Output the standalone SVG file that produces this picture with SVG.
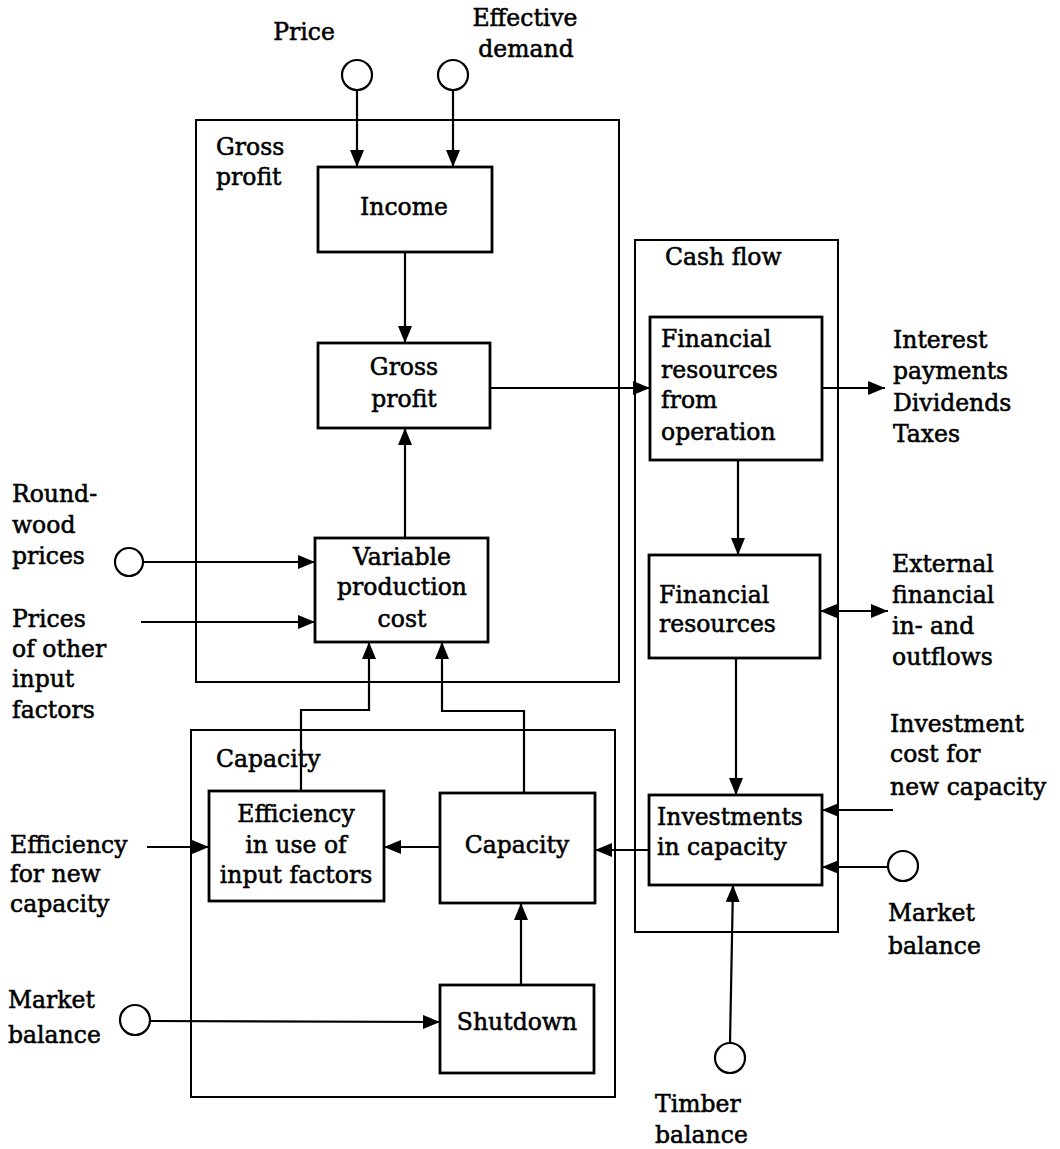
<svg xmlns="http://www.w3.org/2000/svg" width="1060" height="1149" viewBox="0 0 1060 1149">
  <defs>
    <style>
      text { font-family: "DejaVu Serif", "Liberation Serif", serif; font-size: 23.5px; fill: #000; stroke: #000; stroke-width: 0.55px; }
      .mid { text-anchor: middle; }
      .frame { fill: none; stroke: #000; stroke-width: 2; }
      .box { fill: #fff; stroke: #000; stroke-width: 2.8; }
      .src { fill: #fff; stroke: #000; stroke-width: 2.2; }
      .link { fill: none; stroke: #000; stroke-width: 2.2; }
      .arrow { marker-end: url(#head); }
      .both { marker-start: url(#head); marker-end: url(#head); }
    </style>
    <marker id="head" markerUnits="userSpaceOnUse" markerWidth="18" markerHeight="14" refX="17" refY="7" orient="auto-start-reverse">
      <path d="M0,0 L17,7 L0,14 z" fill="#000"/>
    </marker>
  </defs>
  <rect width="1060" height="1149" fill="#fff"/>

  <!-- subsystem frames -->
  <g id="frame-gross-profit">
    <rect class="frame" x="196" y="120" width="423" height="562"/>
    <text x="216" y="155">Gross</text>
    <text x="216" y="185">profit</text>
  </g>
  <g id="frame-cash-flow">
    <rect class="frame" x="635" y="240" width="203" height="692"/>
    <text x="665" y="265">Cash flow</text>
  </g>
  <g id="frame-capacity">
    <rect class="frame" x="191" y="730" width="424" height="367"/>
    <text x="216" y="767">Capacity</text>
  </g>

  <!-- connectors -->
  <g id="connectors">
    <line class="link arrow" x1="357" y1="90" x2="357" y2="167"/>
    <line class="link arrow" x1="453" y1="90" x2="453" y2="167"/>
    <line class="link arrow" x1="405" y1="252" x2="405" y2="343"/>
    <line class="link arrow" x1="405" y1="538" x2="405" y2="428"/>
    <line class="link arrow" x1="490" y1="388" x2="650" y2="388"/>
    <line class="link arrow" x1="822" y1="388" x2="885" y2="388"/>
    <line class="link arrow" x1="738" y1="460" x2="738" y2="555"/>
    <line class="link both" x1="820" y1="611" x2="888" y2="611"/>
    <line class="link arrow" x1="736" y1="658" x2="736" y2="795"/>
    <line class="link arrow" x1="893" y1="810" x2="822" y2="810"/>
    <line class="link arrow" x1="888" y1="867" x2="822" y2="867"/>
    <line class="link arrow" x1="730" y1="1043" x2="733" y2="885"/>
    <line class="link arrow" x1="649" y1="850" x2="595" y2="850"/>
    <line class="link arrow" x1="440" y1="847" x2="384" y2="847"/>
    <line class="link arrow" x1="147" y1="847" x2="209" y2="847"/>
    <line class="link arrow" x1="150" y1="1021" x2="440" y2="1022"/>
    <line class="link arrow" x1="521" y1="985" x2="521" y2="903"/>
    <polyline class="link arrow" points="301,791 301,710 369,710 369,642"/>
    <polyline class="link arrow" points="524,793 524,711 442,711 442,642"/>
    <line class="link arrow" x1="143" y1="562" x2="315" y2="562"/>
    <line class="link arrow" x1="141" y1="622" x2="315" y2="622"/>
  </g>

  <!-- external inputs -->
  <g id="in-price">
    <circle class="src" cx="357" cy="75" r="15"/>
    <text class="mid" x="304" y="40">Price</text>
  </g>
  <g id="in-effective-demand">
    <circle class="src" cx="453" cy="75" r="15"/>
    <text class="mid" x="525" y="26">Effective</text>
    <text class="mid" x="526" y="57">demand</text>
  </g>
  <g id="in-roundwood-prices">
    <circle class="src" cx="129" cy="562" r="14"/>
    <text x="12" y="502">Round-</text>
    <text x="12" y="533">wood</text>
    <text x="12" y="564">prices</text>
  </g>
  <g id="in-other-prices">
    <text x="12" y="627">Prices</text>
    <text x="12" y="657">of other</text>
    <text x="12" y="687">input</text>
    <text x="12" y="718">factors</text>
  </g>
  <g id="in-efficiency-new">
    <text x="10" y="853">Efficiency</text>
    <text x="10" y="882">for new</text>
    <text x="10" y="912">capacity</text>
  </g>
  <g id="in-market-balance-left">
    <circle class="src" cx="135" cy="1020" r="15"/>
    <text x="8" y="1008">Market</text>
    <text x="8" y="1043">balance</text>
  </g>
  <g id="out-payments">
    <text x="893" y="348">Interest</text>
    <text x="893" y="379">payments</text>
    <text x="893" y="411">Dividends</text>
    <text x="893" y="442">Taxes</text>
  </g>
  <g id="io-external">
    <text x="892" y="572">External</text>
    <text x="892" y="603">financial</text>
    <text x="892" y="634">in- and</text>
    <text x="892" y="665">outflows</text>
  </g>
  <g id="in-investment-cost">
    <text x="890" y="732">Investment</text>
    <text x="890" y="762">cost for</text>
    <text x="890" y="795">new capacity</text>
  </g>
  <g id="in-market-balance-right">
    <circle class="src" cx="903" cy="866" r="15"/>
    <text x="888" y="921">Market</text>
    <text x="888" y="954">balance</text>
  </g>
  <g id="in-timber-balance">
    <circle class="src" cx="730" cy="1058" r="15"/>
    <text x="655" y="1112">Timber</text>
    <text x="655" y="1143">balance</text>
  </g>

  <!-- model blocks -->
  <g id="income">
    <rect class="box" x="318" y="167" width="174" height="85"/>
    <text class="mid" x="404" y="215">Income</text>
  </g>
  <g id="gross-profit">
    <rect class="box" x="318" y="343" width="172" height="85"/>
    <text class="mid" x="404" y="375">Gross</text>
    <text class="mid" x="404" y="407">profit</text>
  </g>
  <g id="variable-production-cost">
    <rect class="box" x="315" y="538" width="173" height="104"/>
    <text class="mid" x="402" y="565">Variable</text>
    <text class="mid" x="402" y="595">production</text>
    <text class="mid" x="402" y="627">cost</text>
  </g>
  <g id="financial-resources-operation">
    <rect class="box" x="650" y="317" width="172" height="143"/>
    <text x="661" y="347">Financial</text>
    <text x="661" y="378">resources</text>
    <text x="661" y="408">from</text>
    <text x="661" y="440">operation</text>
  </g>
  <g id="financial-resources">
    <rect class="box" x="649" y="555" width="171" height="103"/>
    <text x="659" y="603">Financial</text>
    <text x="659" y="632">resources</text>
  </g>
  <g id="investments-in-capacity">
    <rect class="box" x="649" y="795" width="173" height="90"/>
    <text x="657" y="825">Investments</text>
    <text x="657" y="855">in capacity</text>
  </g>
  <g id="efficiency-input-factors">
    <rect class="box" x="209" y="791" width="175" height="110"/>
    <text class="mid" x="296" y="822">Efficiency</text>
    <text class="mid" x="296" y="853">in use of</text>
    <text class="mid" x="296" y="883">input factors</text>
  </g>
  <g id="capacity">
    <rect class="box" x="440" y="793" width="155" height="110"/>
    <text class="mid" x="517" y="853">Capacity</text>
  </g>
  <g id="shutdown">
    <rect class="box" x="440" y="985" width="154" height="88"/>
    <text class="mid" x="517" y="1030">Shutdown</text>
  </g>
</svg>
